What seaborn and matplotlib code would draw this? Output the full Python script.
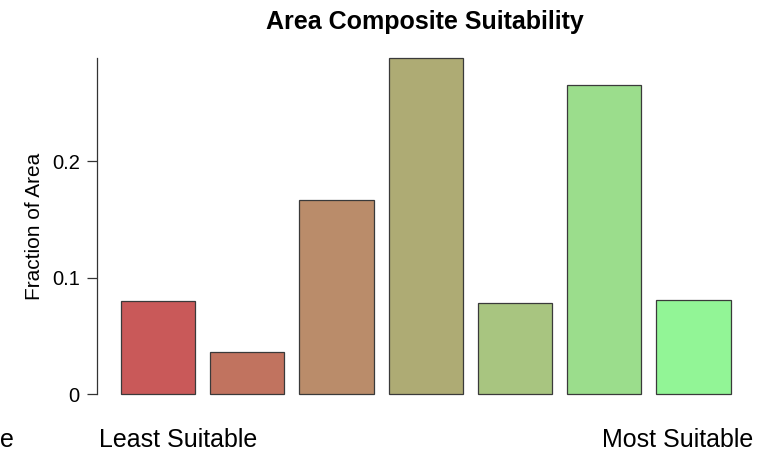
import matplotlib
matplotlib.use("Agg")
import matplotlib.pyplot as plt
import seaborn as sns
import pandas as pd
import numpy as np

categories = ["1", "2", "3", "4", "5", "6", "7"]
fractions = [0.080, 0.036, 0.1665, 0.2885, 0.0785, 0.2655, 0.081]
colors = ["#C95959", "#C1735F", "#BA8C6A", "#AEAB74", "#A8C580", "#9BDD8C", "#92F596"]
yticks = [0, 0.1, 0.2]
yticklabels = ["0", "0.1", "0.2"]

sns.set_theme(style="white")
plt.rcParams["font.family"] = ["Liberation Sans", "DejaVu Sans"]

df = pd.DataFrame({"cat": categories, "frac": fractions})

fig = plt.figure(figsize=(7.67, 4.51), dpi=100)
ax = fig.add_axes([96.5 / 767, 1 - 407.5 / 451, (755 - 96.5) / 767, (407.5 - 44.5) / 451])

sns.barplot(data=df, x="cat", y="frac", hue="cat", palette=colors, legend=False,
            width=1 / 1.2, edgecolor="#3a3a3a", linewidth=0.9, saturation=1, ax=ax)

ymax = max(fractions)
ax.set_xlim(-0.69, 6.69)
ax.set_ylim(-0.04 * ymax, ymax * 1.04)

for s in ["top", "right", "bottom"]:
    ax.spines[s].set_visible(False)
ax.spines["left"].set_bounds(0, ymax)
ax.spines["left"].set_color("#333333")
ax.spines["left"].set_linewidth(0.9)

ax.set_yticks(yticks)
ax.set_yticklabels(yticklabels, fontsize=14.5, color="black")
ax.tick_params(axis="y", which="both", left=True, length=7, width=0.9, color="#333333", pad=5)
ax.set_xticks([])
ax.set_xlabel("")
ax.set_ylabel("Fraction of Area", fontsize=15, labelpad=6, color="black")
ax.grid(False)

fig.text(425 / 767, 1 - 22 / 451, "Area Composite Suitability", ha="center", va="center",
         fontsize=18, fontweight="bold", color="black")
fig.text(178 / 767, 1 - 440 / 451, "Least Suitable", ha="center", va="center", fontsize=18,
         color="black")
fig.text(678 / 767, 1 - 440 / 451, "Most Suitable", ha="center", va="center", fontsize=18,
         color="black")
fig.text(0 / 767, 1 - 440 / 451, "e", ha="left", va="center", fontsize=18, color="black")

fig.savefig("out.png", dpi=100)
